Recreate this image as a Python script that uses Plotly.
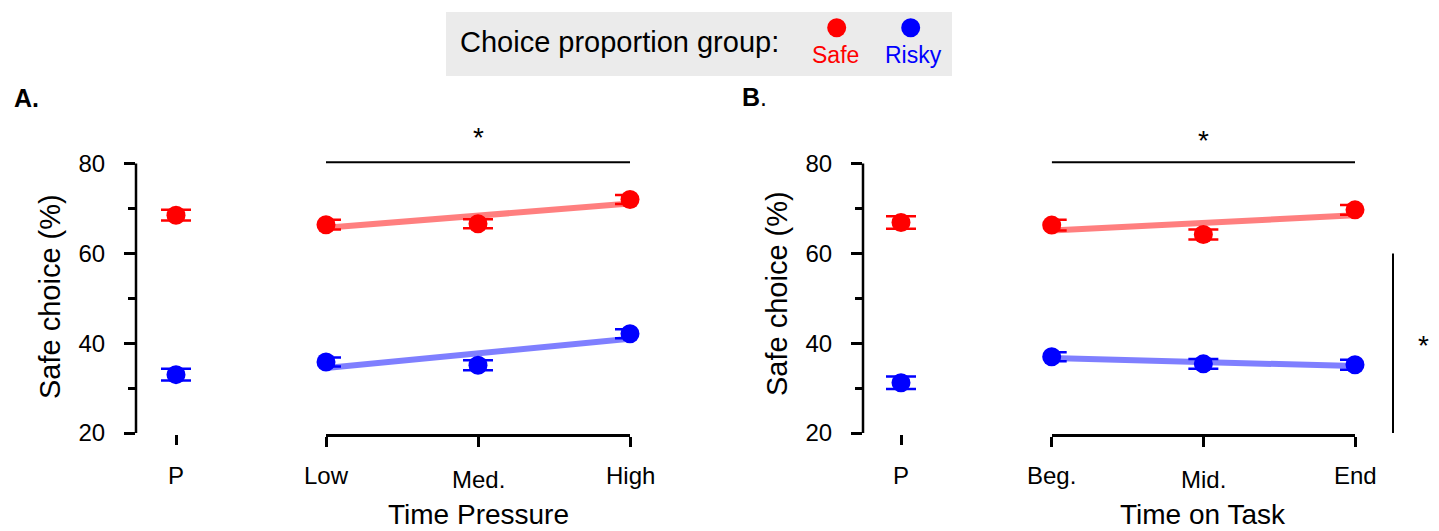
import plotly.graph_objects as go

W, H = 1439, 531
OFF = 8  # default page margin of the browser body

# ---------------- data ----------------
groups = ["Safe", "Risky"]
group_colors = ["#ff0000", "#0000ff"]
fit_colors = ["rgba(255,0,0,0.5)", "rgba(0,0,255,0.5)"]

p_labels = ["P"]
pressure_labels = ["Low", "Med.", "High"]
task_labels = ["Beg.", "Mid.", "End"]
y_ticks = [20, 40, 60, 80]
y_minor = [30, 50, 70]

# Panel A (time pressure)
A_P_safe = [68.5]
A_P_safe_err = [1.2]
A_P_risky = [33.0]
A_P_risky_err = [1.3]
A_safe = [66.4, 66.6, 72.0]
A_safe_err = [1.1, 1.0, 1.0]
A_risky = [35.8, 35.1, 42.1]
A_risky_err = [1.0, 1.1, 1.0]
A_fit_safe = [65.7, 71.1]
A_fit_risky = [34.5, 41.0]

# Panel B (time on task)
B_P_safe = [66.9]
B_P_safe_err = [1.4]
B_P_risky = [31.2]
B_P_risky_err = [1.4]
B_safe = [66.3, 64.2, 69.7]
B_safe_err = [1.2, 1.1, 1.1]
B_risky = [37.0, 35.4, 35.2]
B_risky_err = [1.0, 1.1, 1.1]
B_fit_safe = [65.1, 68.5]
B_fit_risky = [36.7, 34.9]

sig_level = 80.3
side_sig = [20, 60]

# ---------------- helpers (screen pixel -> paper) ----------------
def px(x):
    return (x - OFF) / W

def py(y):
    return 1 - (y - OFF) / H

FONT = "Liberation Sans, Arial, Helvetica, sans-serif"
Y_RANGE = [19.8, 82]
k = (433 - 163.6) / 60.0
y_bot_px = 433 + (20 - Y_RANGE[0]) * k
y_top_px = 163.6 - (Y_RANGE[1] - 80) * k
Y_DOMAIN = [py(y_bot_px), py(y_top_px)]

fig = go.Figure()

def add_points(xaxis, yaxis, xs, ys, errs, color):
    fig.add_trace(go.Scatter(
        x=xs, y=ys, mode="markers", xaxis=xaxis, yaxis=yaxis,
        marker=dict(size=19, color=color, line=dict(width=0)),
        error_y=dict(type="data", array=errs, visible=True, color=color,
                     thickness=2.5, width=15),
        cliponaxis=False, showlegend=False, hoverinfo="skip"))

def add_fit(xaxis, yaxis, ys, color):
    fig.add_trace(go.Scatter(
        x=[0, 2], y=ys, mode="lines", xaxis=xaxis, yaxis=yaxis,
        line=dict(color=color, width=6), showlegend=False, hoverinfo="skip"))

add_fit("x2", "y", A_fit_safe, fit_colors[0])
add_fit("x2", "y", A_fit_risky, fit_colors[1])
add_points("x", "y", [0], A_P_safe, A_P_safe_err, group_colors[0])
add_points("x", "y", [0], A_P_risky, A_P_risky_err, group_colors[1])
add_points("x2", "y", [0, 1, 2], A_safe, A_safe_err, group_colors[0])
add_points("x2", "y", [0, 1, 2], A_risky, A_risky_err, group_colors[1])

add_fit("x4", "y2", B_fit_safe, fit_colors[0])
add_fit("x4", "y2", B_fit_risky, fit_colors[1])
add_points("x3", "y2", [0], B_P_safe, B_P_safe_err, group_colors[0])
add_points("x3", "y2", [0], B_P_risky, B_P_risky_err, group_colors[1])
add_points("x4", "y2", [0, 1, 2], B_safe, B_safe_err, group_colors[0])
add_points("x4", "y2", [0, 1, 2], B_risky, B_risky_err, group_colors[1])

common_x = dict(showgrid=False, zeroline=False, fixedrange=True, ticks="outside",
                tickwidth=2.5, ticklen=10, tickcolor="black", showticklabels=False,
                automargin=False)
common_y = dict(showgrid=False, zeroline=False, fixedrange=True, range=Y_RANGE,
                domain=Y_DOMAIN, showline=False, ticks="outside", ticklen=11,
                tickwidth=2.5, tickcolor="black", tickvals=y_ticks,
                ticklabelstandoff=14, automargin=False,
                tickfont=dict(family=FONT, size=24, color="black"),
                minor=dict(tickvals=y_minor, ticks="outside", ticklen=7,
                           tickwidth=2.5, tickcolor="black", showgrid=False))

A_yaxis_px = 136
B_yaxis_px = 863

fig.update_layout(
    width=W, height=H,
    margin=dict(l=0, r=0, t=0, b=0, pad=0, autoexpand=False),
    paper_bgcolor="white", plot_bgcolor="rgba(0,0,0,0)",
    font=dict(family=FONT, color="black"),
    xaxis=dict(**common_x, domain=[px(A_yaxis_px), px(216)], range=[-1, 1],
               tickvals=[0], anchor="y", showline=False),
    xaxis2=dict(**common_x, domain=[px(326), px(630)], range=[0, 2],
                tickvals=[0, 1, 2], anchor="y", showline=True, linewidth=2.5,
                linecolor="black"),
    xaxis3=dict(**common_x, domain=[px(B_yaxis_px), px(939)], range=[-1, 1],
                tickvals=[0], anchor="y2", showline=False),
    xaxis4=dict(**common_x, domain=[px(1051.7), px(1355)], range=[0, 2],
                tickvals=[0, 1, 2], anchor="y2", showline=True, linewidth=2.5,
                linecolor="black"),
    yaxis=dict(**common_y, anchor="x"),
    yaxis2=dict(**common_y, anchor="x3"),
)

shapes = []
for xp, yref in [(A_yaxis_px, "y"), (B_yaxis_px, "y2")]:
    shapes.append(dict(type="line", xref="paper", yref=yref, x0=px(xp), x1=px(xp),
                       y0=y_ticks[0], y1=y_ticks[-1],
                       line=dict(color="black", width=2.5)))
shapes.append(dict(type="line", xref="x2", yref="y", x0=0, x1=2, y0=sig_level, y1=sig_level,
                   line=dict(color="black", width=2)))
shapes.append(dict(type="line", xref="x4", yref="y2", x0=0, x1=2, y0=sig_level, y1=sig_level,
                   line=dict(color="black", width=2)))
shapes.append(dict(type="line", xref="paper", yref="y2", x0=px(1393), x1=px(1393),
                   y0=side_sig[0], y1=side_sig[1], line=dict(color="black", width=2)))
shapes.append(dict(type="rect", xref="paper", yref="paper", x0=px(446), x1=px(952),
                   y0=py(76), y1=py(12), fillcolor="#ebebeb", line=dict(width=0),
                   layer="below"))
for cx, col in [(836.7, group_colors[0]), (910.7, group_colors[1])]:
    r = 9.5
    shapes.append(dict(type="circle", xref="paper", yref="paper",
                       x0=px(cx - r), x1=px(cx + r), y0=py(27.7 + r), y1=py(27.7 - r),
                       fillcolor=col, line=dict(width=0)))

ann = []
def text(x, y, s, size, xref="paper", yref="paper", color="black", angle=0,
         xanchor="center", yanchor="middle"):
    ann.append(dict(x=x, y=y, xref=xref, yref=yref, text=s, showarrow=False,
                    font=dict(family=FONT, size=size, color=color),
                    textangle=angle, xanchor=xanchor, yanchor=yanchor))

TICK_Y = 475
LOW_SHIFT = 4
text(0, py(TICK_Y), p_labels[0], 24, xref="x")
text(0, py(TICK_Y), p_labels[0], 24, xref="x3")
for i, lab in enumerate(pressure_labels):
    text(i, py(TICK_Y + (LOW_SHIFT if i == 1 else 0)), lab, 24, xref="x2")
for i, lab in enumerate(task_labels):
    text(i, py(TICK_Y + (LOW_SHIFT if i == 1 else 0)), lab, 24, xref="x4")
text(1, py(514), "Time Pressure", 28, xref="x2")
text(1, py(514), "Time on Task", 28, xref="x4")
text(px(50), py(297), "Safe choice (%)", 29, angle=-90)
text(px(777), py(294), "Safe choice (%)", 29, angle=-90)
text(px(12), py(98), "<b>A.</b>", 25, xanchor="left")
text(px(740), py(97), "<b>B</b>.", 25, xanchor="left")
text(1, py(137), "*", 28, xref="x2")
text(1, py(140), "*", 28, xref="x4")
text(px(1423), py(345), "*", 28)
text(px(458), py(42), "Choice proportion group:", 29, xanchor="left")
text(px(836), py(55), groups[0], 23, color=group_colors[0])
text(px(913), py(55), groups[1], 23, color=group_colors[1])

fig.update_layout(shapes=shapes, annotations=ann)

fig.write_html("out.html", config={"displayModeBar": False})
